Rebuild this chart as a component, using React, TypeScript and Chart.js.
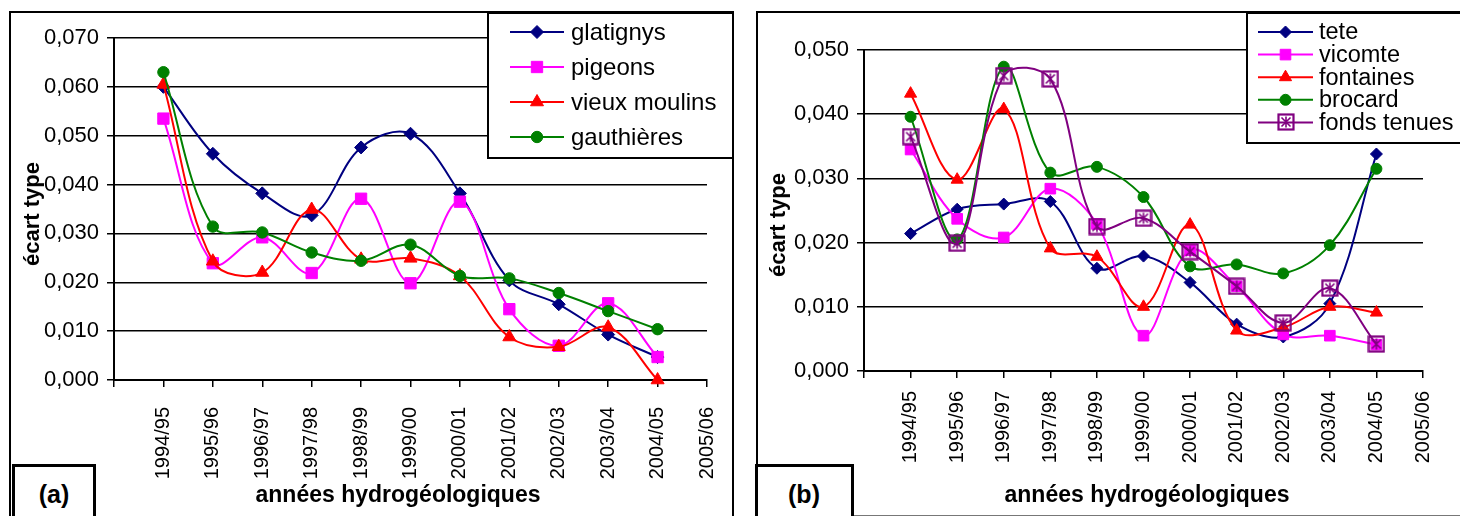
import React, { useEffect, useRef } from 'react';
import { Chart, registerables } from 'chart.js';

Chart.register(...registerables);

const FONT = 'Arial, "Liberation Sans", Helvetica, sans-serif';

// Hydrogeological years shown on the category axis (first slot left blank)
const yearLabels = [
  '1994/95', '1995/96', '1996/97', '1997/98', '1998/99', '1999/00',
  '2000/01', '2001/02', '2002/03', '2003/04', '2004/05', '2005/06',
];

// Panel (a) — standard deviation per year, 1994/95 .. 2004/05
const glatignys = [0.0600, 0.0463, 0.0382, 0.0337, 0.0476, 0.0504, 0.0382, 0.0204, 0.0155, 0.0093, 0.0047];
const pigeons = [0.0535, 0.0239, 0.0292, 0.0219, 0.0371, 0.0198, 0.0365, 0.0145, 0.0070, 0.0157, 0.0047];
const vieuxMoulins = [0.0605, 0.0243, 0.0220, 0.0349, 0.0247, 0.0249, 0.0213, 0.0088, 0.0068, 0.0108, 0.0000];
const gauthieres = [0.0630, 0.0314, 0.0302, 0.0261, 0.0244, 0.0277, 0.0213, 0.0208, 0.0178, 0.0141, 0.0104];

// Panel (b)
const tete = [0.0214, 0.0252, 0.0260, 0.0264, 0.0160, 0.0179, 0.0138, 0.0073, 0.0053, 0.0105, 0.0338];
const vicomte = [0.0345, 0.0237, 0.0208, 0.0284, 0.0229, 0.0055, 0.0188, 0.0132, 0.0057, 0.0055, 0.0041];
const fontaines = [0.0432, 0.0298, 0.0408, 0.0191, 0.0178, 0.0100, 0.0228, 0.0063, 0.0068, 0.0100, 0.0091];
const brocard = [0.0396, 0.0205, 0.0474, 0.0309, 0.0318, 0.0271, 0.0163, 0.0166, 0.0152, 0.0196, 0.0315];
const fondsTenues = [0.0365, 0.0199, 0.0460, 0.0455, 0.0225, 0.0238, 0.0186, 0.0132, 0.0075, 0.0129, 0.0042];

// y-axis ranges
const yMaxA = 0.07;
const yMaxB = 0.05;
const yStep = 0.01;

type Marker = 'diamond' | 'square' | 'triangle' | 'circle' | 'boxStar';

interface Series {
  label: string;
  values: number[];
  color: string;
  marker: Marker;
  size: number;
}

const seriesA: Series[] = [
  { label: 'glatignys', values: glatignys, color: '#000080', marker: 'diamond', size: 6.5 },
  { label: 'pigeons', values: pigeons, color: '#FF00FF', marker: 'square', size: 8 },
  { label: 'vieux moulins', values: vieuxMoulins, color: '#FF0000', marker: 'triangle', size: 7.5 },
  { label: 'gauthières', values: gauthieres, color: '#008000', marker: 'circle', size: 5.7 },
];

const seriesB: Series[] = [
  { label: 'tete', values: tete, color: '#000080', marker: 'diamond', size: 6 },
  { label: 'vicomte', values: vicomte, color: '#FF00FF', marker: 'square', size: 7.5 },
  { label: 'fontaines', values: fontaines, color: '#FF0000', marker: 'triangle', size: 7 },
  { label: 'brocard', values: brocard, color: '#008000', marker: 'circle', size: 5.5 },
  { label: 'fonds tenues', values: fondsTenues, color: '#800080', marker: 'boxStar', size: 9 },
];

// Square outline with an asterisk inside, used as a custom point style
function makeBoxStar(color: string): HTMLCanvasElement {
  const c = document.createElement('canvas');
  c.width = 18;
  c.height = 18;
  const g = c.getContext('2d')!;
  g.strokeStyle = color;
  g.lineWidth = 2.2;
  g.strokeRect(1.5, 1.5, 15, 15);
  g.lineWidth = 1.6;
  g.beginPath();
  g.moveTo(9, 3.5); g.lineTo(9, 14.5);
  g.moveTo(4.5, 4.5); g.lineTo(13.5, 13.5);
  g.moveTo(13.5, 4.5); g.lineTo(4.5, 13.5);
  g.stroke();
  return c;
}

function drawMarker(ctx: CanvasRenderingContext2D, s: Series, x: number, y: number, img?: HTMLCanvasElement) {
  const r = s.size;
  ctx.fillStyle = s.color;
  ctx.strokeStyle = s.color;
  ctx.lineWidth = 1;
  ctx.beginPath();
  if (s.marker === 'diamond') {
    ctx.moveTo(x - r, y); ctx.lineTo(x, y - r); ctx.lineTo(x + r, y); ctx.lineTo(x, y + r);
    ctx.closePath(); ctx.fill(); ctx.stroke();
  } else if (s.marker === 'square') {
    const h = r * Math.SQRT1_2;
    ctx.rect(x - h, y - h, 2 * h, 2 * h); ctx.fill(); ctx.stroke();
  } else if (s.marker === 'triangle') {
    ctx.moveTo(x, y - r);
    ctx.lineTo(x + 0.866 * r, y + 0.5 * r);
    ctx.lineTo(x - 0.866 * r, y + 0.5 * r);
    ctx.closePath(); ctx.fill(); ctx.stroke();
  } else if (s.marker === 'circle') {
    ctx.arc(x, y, r, 0, Math.PI * 2); ctx.fill(); ctx.stroke();
  } else if (img) {
    ctx.drawImage(img, Math.round(x - img.width / 2), Math.round(y - img.height / 2));
  }
}

interface LegendBox {
  x: number; y: number; w: number; h: number;
  rowY: number; rowGap: number;
  lineX1: number; lineX2: number; textX: number;
  fontSize: number;
}

interface PanelSpec {
  series: Series[];
  yMax: number;
  width: number;
  height: number;
  area: { left: number; top: number; right: number; bottom: number };
  xLabelPad: number;
  legend: LegendBox;
}

const Y_AXIS_W = 100;
const X_AXIS_H = 100;

function buildChart(canvas: HTMLCanvasElement, p: PanelSpec): Chart {
  const star = makeBoxStar('#800080');
  const n = p.series.length;

  const pointStyleOf = (m: Marker): any =>
    m === 'diamond' ? 'rectRot' : m === 'square' ? 'rect' : m === 'triangle' ? 'triangle' : m === 'circle' ? 'circle' : star;

  const datasets = p.series.map((s, i) => ({
    label: s.label,
    data: [null, ...s.values],
    borderColor: s.color,
    backgroundColor: s.color,
    borderWidth: 2,
    pointStyle: pointStyleOf(s.marker),
    pointRadius: s.size,
    pointBorderWidth: 1,
    pointBackgroundColor: s.marker === 'boxStar' ? 'rgba(0,0,0,0)' : s.color,
    pointBorderColor: s.color,
    tension: 0.36,
    fill: false,
    clip: false as any,
    order: n - i,
  }));

  const legendPlugin = {
    id: 'boxLegend',
    afterDraw(chart: Chart) {
      const ctx = chart.ctx;
      const L = p.legend;
      ctx.save();
      ctx.fillStyle = '#fff';
      ctx.fillRect(L.x, L.y, L.w, L.h);
      ctx.strokeStyle = '#000';
      ctx.lineWidth = 2;
      ctx.strokeRect(L.x, L.y, L.w, L.h);
      p.series.forEach((s, i) => {
        const y = L.rowY + i * L.rowGap;
        ctx.strokeStyle = s.color;
        ctx.lineWidth = 2;
        ctx.beginPath();
        ctx.moveTo(L.lineX1, y);
        ctx.lineTo(L.lineX2, y);
        ctx.stroke();
        drawMarker(ctx, s, (L.lineX1 + L.lineX2) / 2, y, star);
        ctx.fillStyle = '#000';
        ctx.font = `${L.fontSize}px ${FONT}`;
        ctx.textAlign = 'left';
        ctx.textBaseline = 'middle';
        ctx.fillText(s.label, L.textX, y + 1);
      });
      ctx.restore();
    },
  };

  const a = p.area;
  return new Chart(canvas, {
    type: 'line',
    data: { labels: ['', ...yearLabels], datasets: datasets as any },
    plugins: [legendPlugin],
    options: {
      responsive: false,
      animation: false,
      devicePixelRatio: 1,
      events: [],
      layout: {
        padding: {
          left: a.left - Y_AXIS_W,
          top: a.top,
          right: p.width - a.right,
          bottom: p.height - a.bottom - X_AXIS_H,
        },
      },
      plugins: {
        legend: { display: false },
        tooltip: { enabled: false },
        title: { display: false },
      },
      scales: {
        x: {
          type: 'category',
          offset: false,
          afterFit: (scale: any) => {
            scale.height = X_AXIS_H;
            scale.paddingLeft = 0;
            scale.paddingRight = 0;
          },
          grid: {
            drawOnChartArea: false,
            drawTicks: true,
            tickLength: 7,
            color: '#000',
            lineWidth: 1.5,
          },
          border: { display: true, color: '#000', width: 2 },
          ticks: {
            autoSkip: false,
            minRotation: 90,
            maxRotation: 90,
            padding: p.xLabelPad,
            color: '#000',
            font: { family: FONT, size: 20 },
          },
        },
        y: {
          type: 'linear',
          min: 0,
          max: p.yMax,
          afterFit: (scale: any) => {
            scale.width = Y_AXIS_W;
            scale.paddingTop = 0;
            scale.paddingBottom = 0;
          },
          grid: {
            color: '#000',
            lineWidth: 1.5,
            drawTicks: true,
            tickLength: 7,
          },
          border: { display: true, color: '#000', width: 2 },
          ticks: {
            stepSize: yStep,
            padding: 8,
            color: '#000',
            font: { family: FONT, size: 22 },
            callback: (v: any) => Number(v).toFixed(3).replace('.', ','),
          },
        },
      },
    },
  });
}

const panelA: PanelSpec = {
  series: seriesA,
  yMax: yMaxA,
  width: 740,
  height: 516,
  area: { left: 114, top: 38, right: 707, bottom: 380 },
  xLabelPad: 20,
  legend: { x: 488, y: 13, w: 245, h: 145, rowY: 32, rowGap: 35, lineX1: 510, lineX2: 564, textX: 571, fontSize: 24 },
};

const panelB: PanelSpec = {
  series: seriesB,
  yMax: yMaxB,
  width: 720,
  height: 516,
  area: { left: 124, top: 50, right: 683, bottom: 371 },
  xLabelPad: 13,
  legend: { x: 507, y: 13, w: 230, h: 130, rowY: 32, rowGap: 22.6, lineX1: 518, lineX2: 573, textX: 579, fontSize: 23.5 },
};

const boldText: React.CSSProperties = { fontWeight: 'bold', whiteSpace: 'nowrap', color: '#000' };

function Centered({ x, y, size, rotate, children }: { x: number; y: number; size: number; rotate?: boolean; children: React.ReactNode }) {
  return (
    <div
      style={{
        ...boldText,
        fontSize: size,
        position: 'absolute',
        left: x,
        top: y,
        transform: `translate(-50%, -50%)${rotate ? ' rotate(-90deg)' : ''}`,
        lineHeight: 1,
      }}
    >
      {children}
    </div>
  );
}

export default function App() {
  const refA = useRef<HTMLCanvasElement>(null);
  const refB = useRef<HTMLCanvasElement>(null);

  useEffect(() => {
    const ca = buildChart(refA.current!, panelA);
    const cb = buildChart(refB.current!, panelB);
    return () => {
      ca.destroy();
      cb.destroy();
    };
  }, []);

  return (
    <div
      style={{
        position: 'fixed', left: 0, top: 0, width: 1460, height: 516,
        background: '#fff', overflow: 'hidden', fontFamily: FONT,
      }}
    >
      {/* panel frames */}
      <div style={{ position: 'absolute', left: 9, top: 11, width: 725, height: 600, border: '2px solid #000', borderBottom: 'none', boxSizing: 'border-box' }} />
      <div style={{ position: 'absolute', left: 756, top: 11, width: 800, height: 505, border: '2px solid #000', borderBottom: '1px solid #777', boxSizing: 'border-box' }} />

      <canvas ref={refA} width={740} height={516} style={{ position: 'absolute', left: 0, top: 0 }} />
      <canvas ref={refB} width={720} height={516} style={{ position: 'absolute', left: 740, top: 0 }} />

      {/* axis titles */}
      <Centered x={32} y={214} size={22} rotate>écart type</Centered>
      <Centered x={778} y={225} size={22} rotate>écart type</Centered>
      <Centered x={398} y={494} size={23}>années hydrogéologiques</Centered>
      <Centered x={1147} y={494} size={23}>années hydrogéologiques</Centered>

      {/* panel tags */}
      <div style={{ position: 'absolute', left: 12, top: 464, width: 84, height: 80, border: '3px solid #000', background: '#fff', boxSizing: 'border-box' }} />
      <Centered x={54} y={494} size={25}>(a)</Centered>
      <div style={{ position: 'absolute', left: 755, top: 464, width: 99, height: 80, border: '3px solid #000', background: '#fff', boxSizing: 'border-box' }} />
      <Centered x={804} y={494} size={25}>(b)</Centered>
    </div>
  );
}
